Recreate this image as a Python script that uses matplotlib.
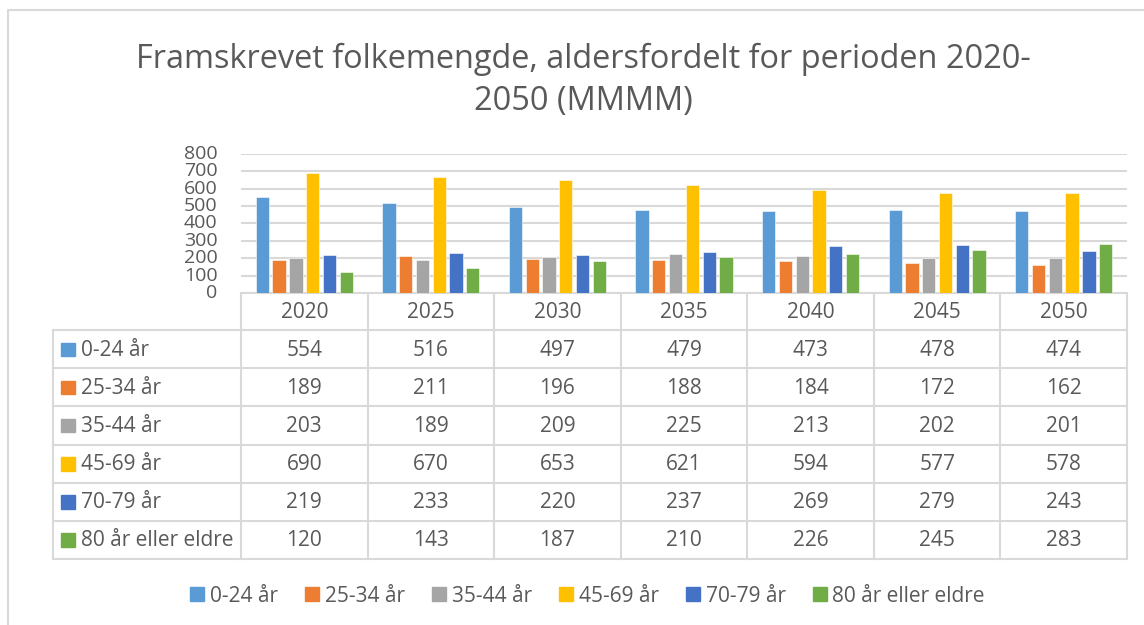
import matplotlib
matplotlib.use("Agg")
import matplotlib.pyplot as plt
from matplotlib.lines import Line2D
import numpy as np

years = ["2020", "2025", "2030", "2035", "2040", "2045", "2050"]
groups = ["0-24 år", "25-34 år", "35-44 år", "45-69 år", "70-79 år", "80 år eller eldre"]
v_0_24 = [554, 516, 497, 479, 473, 478, 474]
v_25_34 = [189, 211, 196, 188, 184, 172, 162]
v_35_44 = [203, 189, 209, 225, 213, 202, 201]
v_45_69 = [690, 670, 653, 621, 594, 577, 578]
v_70_79 = [219, 233, 220, 237, 269, 279, 243]
v_80 = [120, 143, 187, 210, 226, 245, 283]
series = [v_0_24, v_25_34, v_35_44, v_45_69, v_70_79, v_80]
colors = ["#5B9BD5", "#ED7D31", "#A5A5A5", "#FFC000", "#4472C4", "#70AD47"]
title = "Framskrevet folkemengde, aldersfordelt for perioden 2020-\n2050 (MMMM)"

plt.rcParams['font.family'] = ['Open Sans', 'DejaVu Sans']
txt = "#595959"
grid = "#D9D9D9"
W, H = 1144, 625
fs = 15

fig = plt.figure(figsize=(W / 100, H / 100), dpi=100)

# plot area in pixels
px0, px1, py_top, py0 = 241, 1127, 154, 293
ax = fig.add_axes([px0 / W, 1 - py0 / H, (px1 - px0) / W, (py0 - py_top) / H])
n = len(years)
x = np.arange(n)
bw, step = 0.105, 0.1327
for i, (vals, c) in enumerate(zip(series, colors)):
    ax.bar(x + (i - 2.5) * step, vals, width=bw, color=c, edgecolor="white", linewidth=0.4, zorder=3)
ax.set_xlim(-0.5, n - 0.5)
ax.set_ylim(0, 800)
ax.set_yticks(range(0, 801, 100))
ax.set_xticks([])
ax.tick_params(axis="y", length=0, labelsize=14, labelcolor=txt, pad=17)
ax.yaxis.grid(True, color=grid, linewidth=1.5, zorder=0)
for s in ["top", "right", "left"]:
    ax.spines[s].set_visible(False)
ax.spines["bottom"].set_color(grid)
ax.spines["bottom"].set_linewidth(1.5)
for lab in ax.get_yticklabels():
    lab.set_verticalalignment("center")

# overlay in pixel coordinates for data table, title, frame
ov = fig.add_axes([0, 0, 1, 1], zorder=-1)
ov.set_xlim(0, W)
ov.set_ylim(H, 0)
ov.axis("off")

# chart frame
ov.plot([8, 8, W + 5], [H + 5, 10, 10], color=grid, lw=1.5)

ov.text(583, 80, title, ha="center", va="center", fontsize=23.4, color=txt,
        linespacing=1.36)

colw = (px1 - px0) / n
rowh = 38.17
top_row = 330
bottom = top_row + rowh * len(groups)
lab_x0 = 53
# vertical lines
for k in range(n + 1):
    ov.plot([px0 + k * colw] * 2, [py0, bottom], color=grid, lw=1.5)
ov.plot([lab_x0, lab_x0], [top_row, bottom], color=grid, lw=1.5)
for r in range(len(groups) + 1):
    y = top_row + r * rowh
    ov.plot([lab_x0, px1], [y, y], color=grid, lw=1.5)
# header
for k, yr in enumerate(years):
    ov.text(px0 + (k + 0.5) * colw, (py0 + top_row) / 2 + 1, yr, ha="center", va="center",
            fontsize=fs, color=txt)
# rows
for r, (g, vals, c) in enumerate(zip(groups, series, colors)):
    yc = top_row + (r + 0.5) * rowh
    ov.add_patch(plt.Rectangle((61, yc - 6.5), 13.5, 13.5, color=c))
    ov.text(81, yc + 1, g, ha="left", va="center", fontsize=fs, color=txt)
    for k, v in enumerate(vals):
        ov.text(px0 + (k + 0.5) * colw, yc + 1, str(v), ha="center", va="center",
                fontsize=fs, color=txt)

# legend
handles = [Line2D([], [], marker="s", linestyle="", markersize=10, color=c) for c in colors]
fig.legend(handles, groups, loc="center", bbox_to_anchor=(586 / W, 1 - 596 / H), ncol=6,
           frameon=False, fontsize=fs, labelcolor=txt, handletextpad=0.1,
           columnspacing=1.15, handlelength=1.0)

fig.savefig("out.png", dpi=100)
